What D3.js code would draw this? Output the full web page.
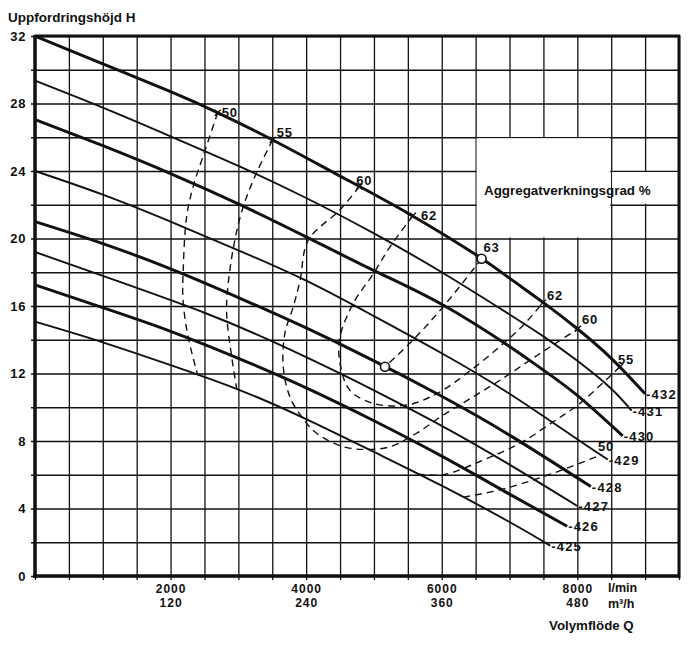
<!DOCTYPE html>
<html>
<head>
<meta charset="utf-8">
<script src="https://cdn.jsdelivr.net/npm/d3@7/dist/d3.min.js"></script>
<style>
  body { margin: 0; background: #fff; }
  text { font-family: "Liberation Sans", Arial, sans-serif; font-weight: bold; fill: #111; }
  .grid line { stroke: #111; stroke-width: 1.3; }
  .grid .domain { display: none; }
  .ticklab .domain { display: none; }
  .ticklab text { font-size: 13px; letter-spacing: 0.6px; }
  .xlab text { font-size: 12px; letter-spacing: 1px; }
</style>
</head>
<body>
<svg id="chart" width="700" height="646"></svg>
<script>
// Pump curves, flow Q in l/min, head H in m
var curve432 = [[0,32],[1000,30.35],[2000,28.7],[2700,27.45],[3500,25.85],[4500,23.7],[5500,21.5],[6500,19.05],[7000,17.65],[7500,16.2],[8000,14.65],[8500,12.9],[9000,10.8]];
var curve431 = [[0,29.35],[1000,27.75],[2000,26.05],[3000,24.3],[4000,22.4],[5000,20.3],[6000,18.0],[7000,15.5],[7500,14.2],[8000,12.75],[8500,11.1],[8800,9.8]];
var curve430 = [[0,27.05],[1000,25.5],[2000,23.85],[3000,22.05],[4000,20.1],[5000,18.1],[6000,16.1],[7000,13.6],[7500,12.2],[8000,10.7],[8670,8.3]];
var curve429 = [[0,24.0],[1000,22.6],[2000,21.0],[3000,19.3],[4000,17.5],[5000,15.4],[6000,13.2],[7000,10.8],[8000,8.1],[8450,6.9]];
var curve428 = [[0,21.0],[1000,19.7],[2000,18.2],[3000,16.5],[4000,14.7],[5000,12.75],[6000,10.65],[7000,8.35],[8200,5.3]];
var curve427 = [[0,19.2],[1200,17.5],[2500,15.6],[3500,13.9],[4400,12.2],[5000,11.0],[6000,8.9],[7000,6.6],[8000,4.15]];
var curve426 = [[0,17.25],[1000,15.9],[2000,14.5],[3000,12.9],[4000,11.15],[5000,9.2],[6000,7.1],[7000,4.85],[7850,2.95]];
var curve425 = [[0,15.07],[1000,13.85],[2000,12.5],[3000,11.05],[4000,9.3],[5000,7.35],[6000,5.35],[7000,3.2],[7600,1.8]];
var pumpNames = ["432","431","430","429","428","427","426","425"];
var pumpCurves = [curve432, curve431, curve430, curve429, curve428, curve427, curve426, curve425];

// Efficiency contours (Aggregatverkningsgrad %)
var eff50Left  = [[2695,27.45],[2507,25.2],[2335,23.1],[2237,21.3],[2187,18.2],[2183,16.4],[2257,14.2],[2400,11.92]];
var eff50Right = [[6317,4.67],[6858,5.1],[7350,5.69],[7842,6.38],[8333,7.15]];
var eff55Left  = [[3506,25.85],[3269,23.9],[3073,21.9],[2950,19.95],[2852,17.4],[2827,15.57],[2901,13.0],[2975,11.1]];
var eff55Right = [[8628,12.4],[8038,10.23],[7645,9.14],[7153,7.86],[6612,6.87],[6022,6.0],[5650,6.05]];
var eff60 = [[4784,23.08],[4499,21.7],[4031,19.9],[3909,17.5],[3810,15.96],[3687,14.4],[3662,12.4],[3761,10.6],[3933,9.44],[4154,8.46],[4547,7.66],[4892,7.5],[5236,7.66],[5629,8.46],[6022,9.54],[6416,10.5],[6858,11.6],[7400,13.05],[8009,14.65]];
var eff62 = [[5575,21.35],[5236,19.5],[4990,17.9],[4695,16.16],[4490,14.0],[4510,12.4],[4646,11.0],[4990,10.23],[5482,10.13],[5925,10.8],[6367,12.0],[6858,13.6],[7200,14.85],[7493,16.2]];
var eff63 = [[6588,18.8],[6022,15.96],[5580,14.0],[5162,12.4]];
var effContours = [eff50Left, eff50Right, eff55Left, eff55Right, eff60, eff62, eff63];

// Axis ticks
var xGrid = d3.range(0, 9501, 500);
var yGrid = d3.range(0, 33, 2);
var yLabels = [0, 4, 8, 12, 16, 20, 24, 28, 32];
var flowTicks = [2000, 4000, 6000, 8000];
var flowM3h = ["120", "240", "360", "480"];

var svg = d3.select("#chart");
var x = d3.scaleLinear().domain([0, 9500]).range([35, 679]);
var y = d3.scaleLinear().domain([0, 32]).range([576, 36]);

// Grid lines, each with a little stub outside the axes
svg.append("g").attr("class", "grid")
    .attr("transform", "translate(0," + (y(0) + 4) + ")")
    .call(d3.axisBottom(x).tickValues(xGrid).tickSize(-(y(0) - y(32) + 4)).tickFormat(""));
svg.append("g").attr("class", "grid")
    .attr("transform", "translate(" + (x(0) - 4) + ",0)")
    .call(d3.axisLeft(y).tickValues(yGrid).tickSize(-(x(9500) - x(0) + 4)).tickFormat(""));

// Blank area behind the legend text
svg.append("rect").attr("fill", "#fff")
    .attr("x", x(6500) + 1).attr("y", y(26) + 1)
    .attr("width", x(8500) - x(6500) - 2).attr("height", y(20) - y(26) - 2);
svg.append("rect").attr("fill", "#fff")
    .attr("x", x(8500) + 1).attr("y", y(24) + 1)
    .attr("width", x(9500) - x(8500) - 2).attr("height", y(22) - y(24) - 2);

// Frame
svg.append("line").attr("x1", x(0)).attr("x2", x(0)).attr("y1", y(32) - 1).attr("y2", y(0) + 2)
    .attr("stroke", "#111").attr("stroke-width", 3.5);
svg.append("line").attr("x1", x(0) - 2).attr("x2", x(9500) + 1).attr("y1", y(0)).attr("y2", y(0))
    .attr("stroke", "#111").attr("stroke-width", 3.5);
svg.append("line").attr("x1", x(0)).attr("x2", x(9500) + 1).attr("y1", y(32)).attr("y2", y(32))
    .attr("stroke", "#111").attr("stroke-width", 3);
svg.append("line").attr("x1", x(9500)).attr("x2", x(9500)).attr("y1", y(32) - 1).attr("y2", y(0) + 2)
    .attr("stroke", "#111").attr("stroke-width", 3);

// Tick labels
svg.append("g").attr("class", "ticklab")
    .attr("transform", "translate(" + x(0) + ",0)")
    .call(d3.axisLeft(y).tickValues(yLabels).tickSize(0).tickPadding(9));
svg.append("g").attr("class", "ticklab xlab")
    .attr("transform", "translate(0," + y(0) + ")")
    .call(d3.axisBottom(x).tickValues(flowTicks).tickSize(0).tickPadding(8).tickFormat(d3.format("d")));
svg.append("g").attr("class", "ticklab xlab")
    .attr("transform", "translate(0," + y(0) + ")")
    .call(d3.axisBottom(x).tickValues(flowTicks).tickSize(0).tickPadding(22).tickFormat(function(d, i) { return flowM3h[i]; }));

// Titles
svg.append("text").attr("x", 8).attr("y", 22).attr("font-size", 13.5).text("Uppfordringshöjd H");
svg.append("text").attr("x", 484).attr("y", 195).attr("font-size", 13.4).text("Aggregatverkningsgrad %");
svg.append("text").attr("x", 608).attr("y", 592).attr("font-size", 12.5).text("l/min");
svg.append("text").attr("x", 608).attr("y", 608).attr("font-size", 12.5).text("m³/h");
svg.append("text").attr("x", 549).attr("y", 630).attr("font-size", 13.3).text("Volymflöde Q");

// Efficiency contours
var effLine = d3.line()
    .x(function(d) { return x(d[0]); })
    .y(function(d) { return y(d[1]); })
    .curve(d3.curveCatmullRom.alpha(0.5));
svg.append("g").selectAll("path").data(effContours).join("path")
    .attr("fill", "none").attr("stroke", "#111").attr("stroke-width", 1.4)
    .attr("stroke-dasharray", "7,5")
    .attr("d", effLine);

// Pump curves, every other one drawn heavy
var pumpLine = d3.line()
    .x(function(d) { return x(d[0]); })
    .y(function(d) { return y(d[1]); })
    .curve(d3.curveNatural);
svg.append("g").selectAll("path").data(pumpCurves).join("path")
    .attr("fill", "none").attr("stroke", "#111")
    .attr("stroke-width", function(d, i) { return i % 2 === 0 ? 3 : 1.9; })
    .attr("d", pumpLine);

svg.append("g").selectAll("text").data(pumpCurves).join("text")
    .attr("x", function(d) { return x(d[d.length - 1][0]) + 1; })
    .attr("y", function(d) { return y(d[d.length - 1][1]); })
    .attr("dy", "0.38em")
    .attr("font-size", 13).attr("letter-spacing", 1.2)
    .text(function(d, i) { return "-" + pumpNames[i]; });

// Efficiency labels: [contour, point index, text, dx, dy]
var effLabels = [
    [eff50Left, 0, "50", 4, 4],
    [eff55Left, 0, "55", 4, -3],
    [eff60, 0, "60", -3, -2],
    [eff62, 0, "62", 8, 4],
    [eff63, 0, "63", 2, -7],
    [eff62, eff62.length - 1, "62", 4, -3],
    [eff60, eff60.length - 1, "60", 4, -5],
    [eff55Right, 0, "55", -2, -3],
    [eff50Right, eff50Right.length - 1, "50", -2, -4]
];
svg.append("g").selectAll("text").data(effLabels).join("text")
    .attr("x", function(d) { return x(d[0][d[1]][0]) + d[3]; })
    .attr("y", function(d) { return y(d[0][d[1]][1]) + d[4]; })
    .attr("font-size", 13).attr("letter-spacing", 0.8)
    .text(function(d) { return d[2]; });

// Small crosses where contours meet the top curve
var crossPts = [eff50Left[0], eff55Left[0], eff60[0], eff62[0], eff62[eff62.length - 1], eff60[eff60.length - 1], eff55Right[0]];
svg.append("g").selectAll("path").data(crossPts).join("path")
    .attr("fill", "none").attr("stroke", "#111").attr("stroke-width", 1.3)
    .attr("d", function(d) {
        var px = x(d[0]), py = y(d[1]);
        return "M" + (px - 3) + "," + (py - 3) + "L" + (px + 3) + "," + (py + 3) +
               "M" + (px - 3) + "," + (py + 3) + "L" + (px + 3) + "," + (py - 3);
    });

// 63 % points: circles
svg.append("g").selectAll("circle").data([eff63[0], eff63[eff63.length - 1]]).join("circle")
    .attr("cx", function(d) { return x(d[0]); })
    .attr("cy", function(d) { return y(d[1]); })
    .attr("r", 4.5)
    .attr("fill", "#fff").attr("stroke", "#111").attr("stroke-width", 1.6);
</script>
</body>
</html>
